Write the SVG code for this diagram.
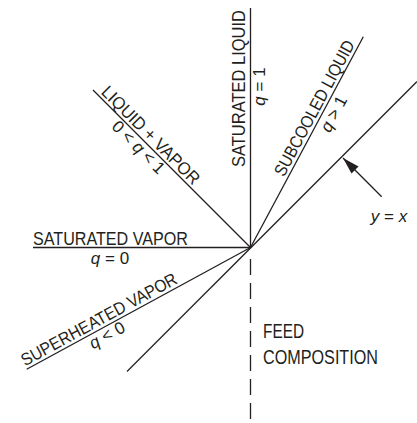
<svg xmlns="http://www.w3.org/2000/svg" width="417" height="423" viewBox="0 0 417 423">
  <style>
    .ln { stroke: #231f20; stroke-width: 1.3; fill: none; }
    .dash { stroke: #231f20; stroke-width: 1.3; fill: none; stroke-dasharray: 16 8; }
    .lbl { font-family: "Liberation Sans", Arial, sans-serif; font-size: 17.5px; fill: #231f20; }
    .q { font-family: "Liberation Sans", Arial, sans-serif; font-size: 17px; fill: #231f20; text-anchor: middle; }
    .it { font-style: italic; }
  </style>
  <defs>
    <marker id="ah" markerUnits="userSpaceOnUse" markerWidth="18" markerHeight="12" refX="17" refY="5" orient="auto">
      <path d="M0,0 L17,5 L0,10 Z" fill="#231f20"/>
    </marker>
  </defs>
  <rect width="417" height="423" fill="#ffffff"/>
  <g id="connectors">
    <line class="ln" x1="250.5" y1="8" x2="250.5" y2="247.5"/>
    <line class="ln" x1="33" y1="247.5" x2="250.5" y2="247.5"/>
    <line class="ln" x1="93" y1="90" x2="250.5" y2="247.5"/>
    <line class="ln" x1="363.3" y1="36.7" x2="250.5" y2="247.5"/>
    <line class="ln" x1="127" y1="371.5" x2="417" y2="81.5"/>
    <line class="ln" x1="26.7" y1="369.3" x2="250.5" y2="247.5"/>
    <line class="dash" x1="250.5" y1="259" x2="250.5" y2="423"/>
    <line class="ln" x1="381.7" y1="196.7" x2="343" y2="158" marker-end="url(#ah)"/>
  </g>
  <g id="saturated-vapor">
    <text class="lbl" x="110.5" y="245" text-anchor="middle" textLength="155" lengthAdjust="spacingAndGlyphs">SATURATED VAPOR</text>
    <text class="q" x="110" y="263.5"><tspan class="it">q</tspan> = 0</text>
  </g>
  <g id="saturated-liquid" transform="translate(250.5,247.5) rotate(-90)">
    <text class="lbl" x="159" y="-5.5" text-anchor="middle" textLength="157" lengthAdjust="spacingAndGlyphs">SATURATED LIQUID</text>
    <text class="q" x="161" y="14.5"><tspan class="it">q</tspan> = 1</text>
  </g>
  <g id="liquid-vapor" transform="translate(250.5,247.5) rotate(45)">
    <text class="lbl" x="-150" y="-3" text-anchor="middle" textLength="131" lengthAdjust="spacingAndGlyphs">LIQUID + VAPOR</text>
    <text class="q" x="-150" y="14">0 &lt; <tspan class="it">q</tspan> &lt; 1</text>
  </g>
  <g id="subcooled-liquid" transform="translate(250.5,247.5) rotate(-61.85)">
    <text class="lbl" x="153" y="-3.5" text-anchor="middle" textLength="151" lengthAdjust="spacingAndGlyphs">SUBCOOLED LIQUID</text>
    <text class="q" x="157" y="16"><tspan class="it">q</tspan> &gt; 1</text>
  </g>
  <g id="superheated-vapor" transform="translate(250.5,247.5) rotate(-28.6)">
    <text class="lbl" x="-167.5" y="-3.5" text-anchor="middle" textLength="175" lengthAdjust="spacingAndGlyphs">SUPERHEATED VAPOR</text>
    <text class="q" x="-168" y="14"><tspan class="it">q</tspan> &lt; 0</text>
  </g>
  <g id="feed-composition">
    <text class="lbl" x="263" y="338" style="font-size:19.5px" textLength="41" lengthAdjust="spacingAndGlyphs">FEED</text>
    <text class="lbl" x="263" y="363.5" style="font-size:19.5px" textLength="115" lengthAdjust="spacingAndGlyphs">COMPOSITION</text>
  </g>
  <g id="y-equals-x">
    <text class="q" x="389" y="221.5"><tspan class="it">y</tspan> = <tspan class="it">x</tspan></text>
  </g>
</svg>
